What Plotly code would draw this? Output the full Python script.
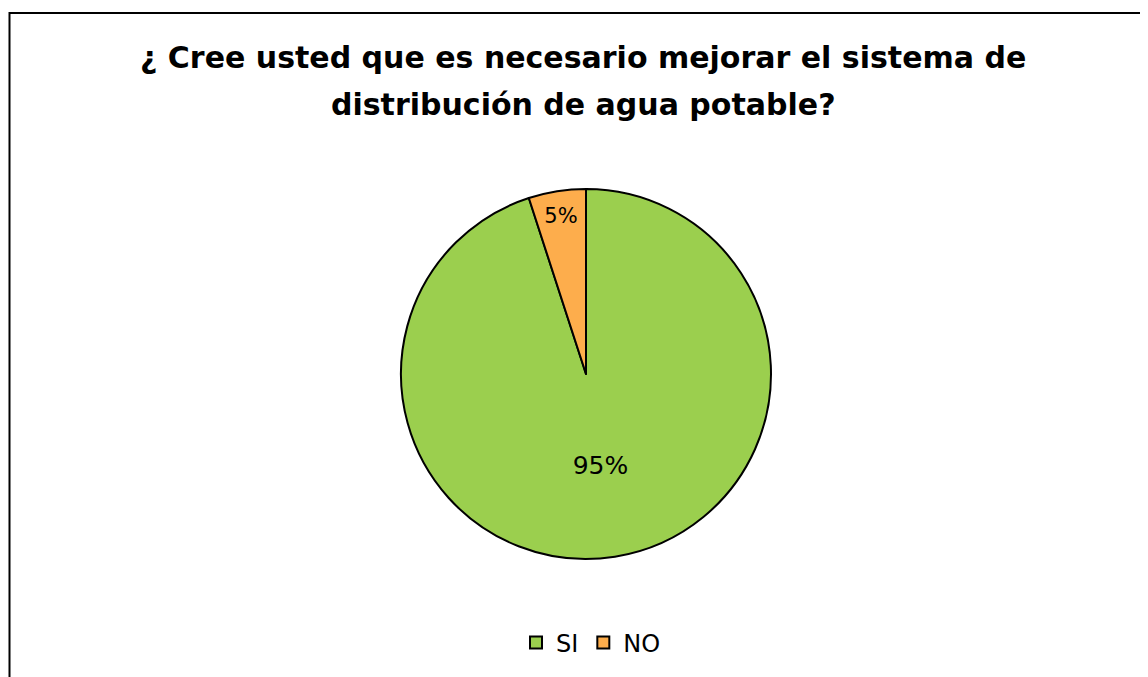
import plotly.graph_objects as go

labels = ["SI", "NO"]
values = [95, 5]
colors = ["#9BCF4E", "#FDAD4C"]
title_lines = ["¿ Cree usted que es necesario mejorar el sistema de",
               "distribución de agua potable?"]

# figure is drawn 8px in from the page corner (body margin)
W, H = 1148, 677
FONT = "DejaVu Sans"

fig = go.Figure()
fig.add_trace(go.Pie(
    labels=labels,
    values=values,
    sort=False,
    direction="clockwise",
    rotation=0,
    marker=dict(colors=colors, line=dict(color="black", width=2)),
    texttemplate="%{percent:.0%}",
    textposition="inside",
    insidetextorientation="horizontal",
    textfont=dict(family=FONT, size=[25, 21], color="black"),
    domain=dict(x=[393 / W, 763 / W], y=[(H - 551) / H, (H - 181) / H]),
))

annotations = []
for i, line in enumerate(title_lines):
    annotations.append(dict(
        text="<b>" + line + "</b>", xref="paper", yref="paper",
        x=575 / W, y=(H - 50 - 46 * i) / H, xanchor="center", yanchor="middle",
        showarrow=False, font=dict(family=FONT, size=30, color="black"),
    ))

fig.update_layout(
    width=W, height=H,
    margin=dict(l=0, r=0, t=0, b=0),
    paper_bgcolor="white",
    annotations=annotations,
    legend=dict(
        orientation="h", x=583 / W, xanchor="center", y=(H - 635) / H, yanchor="middle",
        font=dict(family=FONT, size=24, color="black"),
        itemwidth=30,
    ),
    shapes=[dict(type="rect", xref="paper", yref="paper",
                 x0=1.5 / W, x1=1.02, y0=-0.02, y1=(H - 5) / H,
                 line=dict(color="black", width=2))],
)

fig.write_html("out.html")
